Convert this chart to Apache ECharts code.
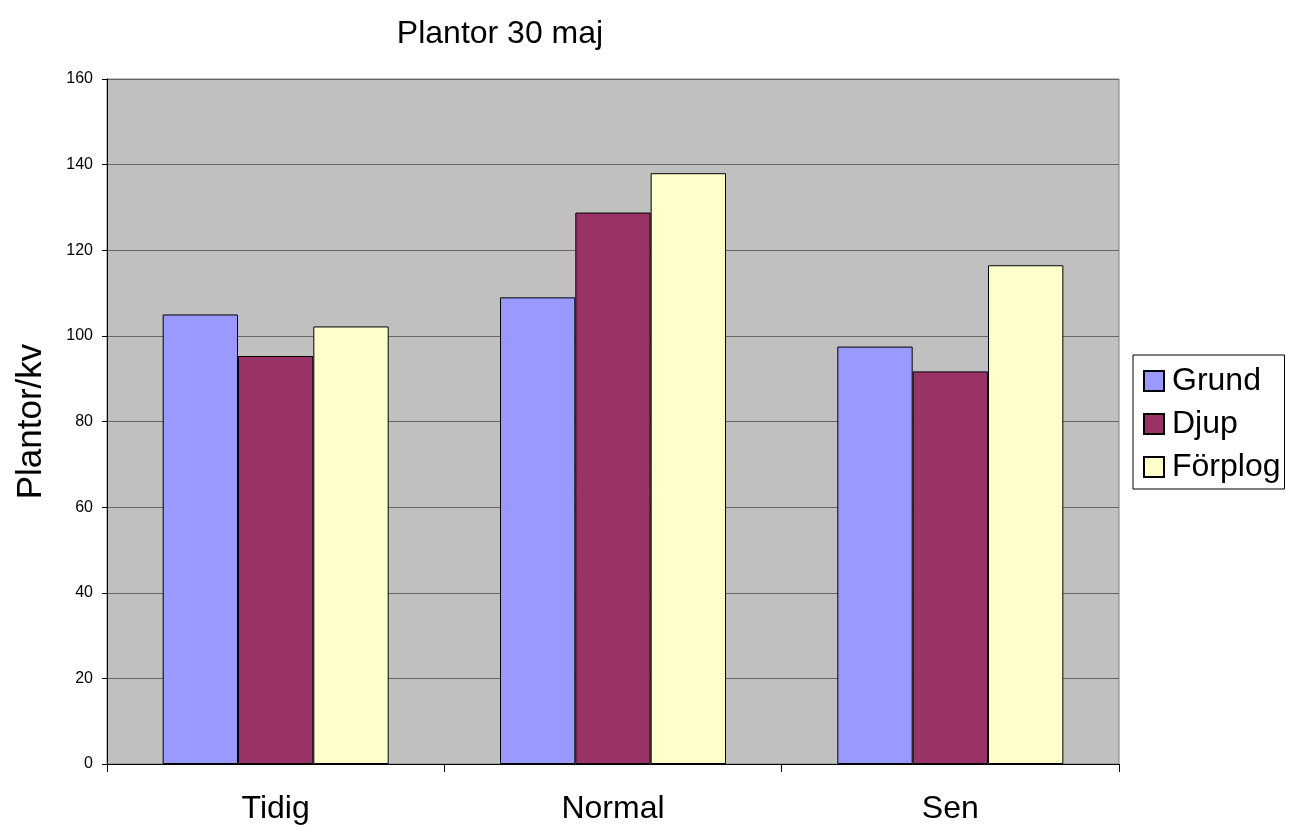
<!DOCTYPE html>
<html>
<head>
<meta charset="utf-8">
<script src="https://cdn.jsdelivr.net/npm/echarts@6/dist/echarts.min.js"></script>
<style>
  html, body { margin: 0; padding: 0; background: #fff; }
  #chart { width: 1291px; height: 834px; }
</style>
</head>
<body>
<div id="chart"></div>
<script>
// Plant counts per square metre, 30 May, by sowing time and tillage method
const categories = ['Tidig', 'Normal', 'Sen'];
const grund = [105.0, 109.0, 97.5];
const djup = [95.3, 128.8, 91.7];
const forplog = [102.2, 138.0, 116.5];
const seriesNames = ['Grund', 'Djup', 'Förplog'];
const seriesColors = ['#9999FF', '#993366', '#FFFFCC'];

const font = 'Liberation Sans, Arial, sans-serif';
const chart = echarts.init(document.getElementById('chart'), null, { renderer: 'canvas' });

const values = [grund, djup, forplog];
chart.setOption({
  animation: false,
  backgroundColor: '#ffffff',
  title: {
    text: 'Plantor 30 maj',
    left: 495, top: 13, textAlign: 'center',
    textStyle: { fontFamily: font, fontSize: 32, fontWeight: 'normal', color: '#000' }
  },
  legend: {
    orient: 'vertical',
    left: 1133, top: 355,
    padding: [10, 4, 6, 10],
    itemGap: 11,
    itemWidth: 20, itemHeight: 20,
    icon: 'rect',
    borderColor: '#000', borderWidth: 1,
    textStyle: { fontFamily: font, fontSize: 32, color: '#000', padding: [0, 0, 0, 3] },
    data: seriesNames
  },
  grid: {
    left: 107, right: 172, top: 79, bottom: 70,
    show: true, backgroundColor: '#C0C0C0', borderColor: '#808080', borderWidth: 1
  },
  xAxis: {
    type: 'category',
    data: categories,
    axisLine: { lineStyle: { color: '#000', width: 1 } },
    axisTick: { show: true, inside: false, length: 8, lineStyle: { color: '#000' } },
    axisLabel: { fontFamily: font, fontSize: 32, color: '#000', margin: 29 }
  },
  yAxis: {
    type: 'value',
    min: 0, max: 160, interval: 20,
    name: 'Plantor/kv',
    nameLocation: 'middle',
    nameGap: 58,
    nameTextStyle: { fontFamily: font, fontSize: 35, color: '#000' },
    axisLine: { show: true, lineStyle: { color: '#000', width: 1 } },
    axisTick: { show: true, length: 5, lineStyle: { color: '#000' } },
    axisLabel: { fontFamily: font, fontSize: 16, color: '#000', margin: 14 },
    splitLine: { show: true, lineStyle: { color: '#666666', width: 1 } }
  },
  series: seriesNames.map((name, i) => ({
    name,
    type: 'bar',
    data: values[i],
    barGap: '0%',
    barCategoryGap: '33%',
    itemStyle: { color: seriesColors[i], borderColor: '#000', borderWidth: 1 }
  }))
});
</script>
</body>
</html>
